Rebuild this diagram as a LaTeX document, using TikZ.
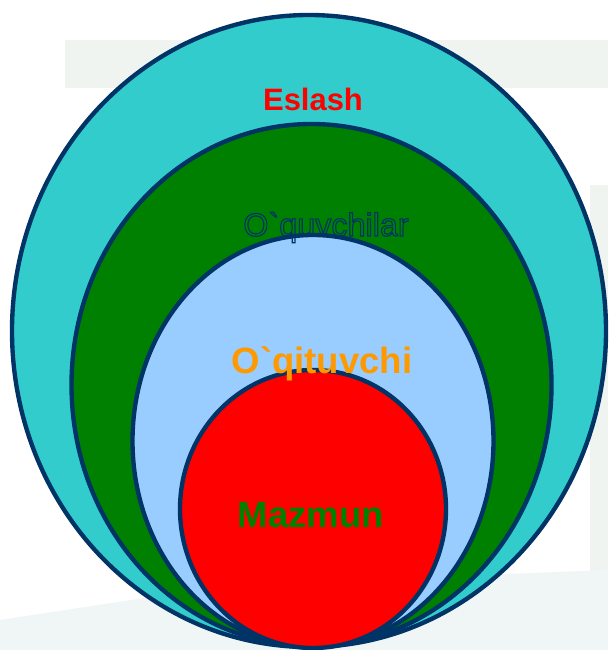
\documentclass[tikz,border=0pt]{standalone}
\usepackage{fontspec}
\setmainfont{Liberation Sans}[Ligatures=TeXOff]
\usetikzlibrary{positioning}
\definecolor{navy}{HTML}{003366}
\definecolor{aqua}{HTML}{33CCCC}
\definecolor{leaf}{HTML}{008000}
\definecolor{sky}{HTML}{99CCFF}
\definecolor{signal}{HTML}{FF0000}
\definecolor{amber}{HTML}{FF9900}
\definecolor{paper}{HTML}{EFF4F1}
\definecolor{mist}{HTML}{F0F5F6}
\newcommand{\outlinetext}[1]{\special{pdf:literal direct 0 0.2 0.4 RG 0.8 w 1 Tr}#1\special{pdf:literal direct 0 Tr}}
\tikzset{
  ring/.style={draw=navy,line width=3.1pt},
  lbl/.style={font=\bfseries\fontsize{22}{24}\selectfont,anchor=base,inner sep=0pt},
  biglbl/.style={font=\bfseries\fontsize{26}{28}\selectfont,anchor=base,inner sep=0pt},
  hollow/.style={font=\fontsize{23}{25}\selectfont,anchor=base,inner sep=0pt}
}
\begin{document}
\begin{tikzpicture}[x=0.025cm,y=-0.025cm]
\path[use as bounding box,fill=white] (0,0) rectangle (608,650);
% faint slide background
\fill[paper] (65,40) rectangle (608,88);
\fill[paper] (590,185) rectangle (608,650);
\fill[mist] (0,650) -- (0,620) -- (230,585) -- (608,570) -- (608,650) -- cycle;
% nested ellipses
\draw[ring,fill=aqua] (309,331) ellipse [x radius=297,y radius=316];
\draw[ring,fill=leaf] (311.5,385) ellipse [x radius=240,y radius=261];
\draw[ring,fill=sky] (313,441) ellipse [x radius=180.5,y radius=206];
\draw[ring,fill=signal] (313,509) ellipse [x radius=133,y radius=139];
% labels
\node[lbl,text=signal] (eslash) at (313,110) {Eslash};
\node[hollow] (oquvchilar) at (326,236) {\outlinetext{O`quvchilar}};
\node[biglbl,text=amber] (oqituvchi) at (322,373) {O`qituvchi};
\node[biglbl,text=leaf] (mazmun) at (311,527) {Mazmun};
\end{tikzpicture}
\end{document}
